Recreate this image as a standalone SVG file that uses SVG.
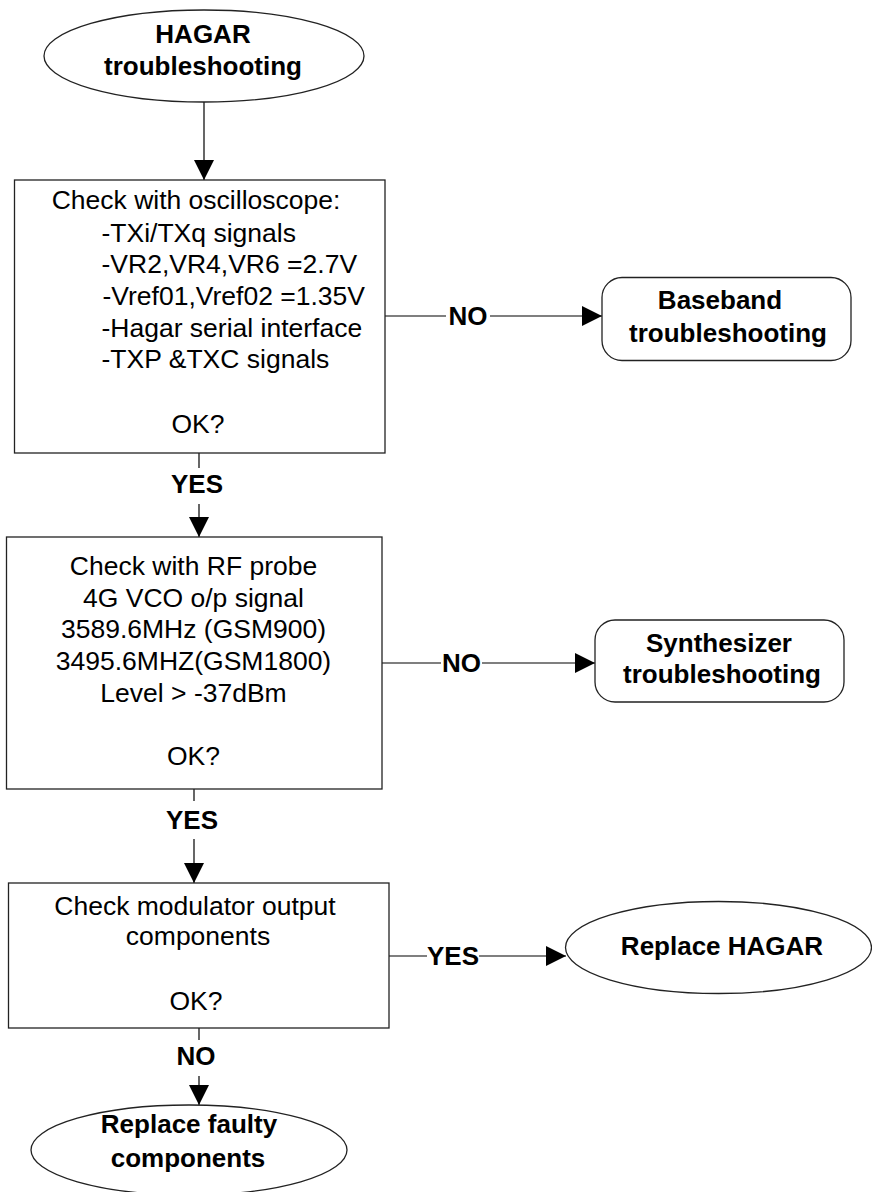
<svg xmlns="http://www.w3.org/2000/svg" width="872" height="1192" viewBox="0 0 872 1192">
<style>
.shape{fill:#fff;stroke:#222;stroke-width:1.3}
.t{font-family:"Liberation Sans",Arial,sans-serif;font-size:26.5px;fill:#000}
.b{font-family:"Liberation Sans",Arial,sans-serif;font-size:26px;font-weight:bold;fill:#000}
.c{text-anchor:middle}
.ln{fill:none;stroke:#000;stroke-width:1.2}
</style>
<defs>
<marker id="arr" viewBox="0 0 20 20" refX="20" refY="10" markerWidth="20" markerHeight="20" markerUnits="userSpaceOnUse" orient="auto"><path d="M0,0 L20,10 L0,20 z" fill="#000"/></marker>
</defs>
<rect width="872" height="1192" fill="#fff"/>
<g id="connectors">
<line class="ln" x1="204" y1="102" x2="204" y2="180" marker-end="url(#arr)"/>
<line class="ln" x1="385" y1="316" x2="446" y2="316"/>
<line class="ln" x1="490" y1="316" x2="602" y2="316" marker-end="url(#arr)"/>
<text class="b c" x="468" y="325">NO</text>
<line class="ln" x1="199" y1="453" x2="199" y2="468"/>
<text class="b c" x="197" y="493">YES</text>
<line class="ln" x1="199" y1="504" x2="199" y2="537" marker-end="url(#arr)"/>
<line class="ln" x1="382" y1="663" x2="441" y2="663"/>
<line class="ln" x1="482" y1="663" x2="595" y2="663" marker-end="url(#arr)"/>
<text class="b c" x="461.5" y="672">NO</text>
<line class="ln" x1="194" y1="789" x2="194" y2="801"/>
<text class="b c" x="192" y="829">YES</text>
<line class="ln" x1="194" y1="839" x2="194" y2="883" marker-end="url(#arr)"/>
<line class="ln" x1="389" y1="956" x2="427" y2="956"/>
<line class="ln" x1="479" y1="956" x2="566" y2="956" marker-end="url(#arr)"/>
<text class="b c" x="453" y="965">YES</text>
<line class="ln" x1="199" y1="1028" x2="199" y2="1040"/>
<text class="b c" x="196" y="1065">NO</text>
<line class="ln" x1="199" y1="1076" x2="199" y2="1105" marker-end="url(#arr)"/>
</g>
<g id="start">
<ellipse class="shape" cx="204" cy="56" rx="160" ry="46"/>
<text class="b c" x="203" y="43">HAGAR</text>
<text class="b c" x="203" y="75">troubleshooting</text>
</g>
<g id="check-osc">
<rect class="shape" x="14.5" y="180" width="370.5" height="273"/>
<text class="t c" x="196" y="209">Check with oscilloscope:</text>
<text class="t" x="101.5" y="241.5">-TXi/TXq signals</text>
<text class="t" x="101.5" y="273">-VR2,VR4,VR6 =2.7V</text>
<text class="t" x="102.5" y="305">-Vref01,Vref02 =1.35V</text>
<text class="t" x="101.5" y="336.5">-Hagar serial interface</text>
<text class="t" x="101.5" y="368">-TXP &amp;TXC signals</text>
<text class="t c" x="198" y="433">OK?</text>
</g>
<g id="baseband">
<rect class="shape" x="602" y="277.5" width="249" height="83" rx="20" ry="20"/>
<text class="b c" x="720" y="309">Baseband</text>
<text class="b c" x="728" y="341.5">troubleshooting</text>
</g>
<g id="check-rf">
<rect class="shape" x="6.5" y="537" width="375.5" height="252"/>
<text class="t c" x="193.5" y="575">Check with RF probe</text>
<text class="t c" x="193.5" y="606.5">4G VCO o/p signal</text>
<text class="t c" x="193.5" y="638">3589.6MHz (GSM900)</text>
<text class="t c" x="193.5" y="670">3495.6MHZ(GSM1800)</text>
<text class="t c" x="193.5" y="701.5">Level &gt; -37dBm</text>
<text class="t c" x="193.5" y="765">OK?</text>
</g>
<g id="synth">
<rect class="shape" x="595" y="620" width="249" height="82" rx="20" ry="20"/>
<text class="b c" x="719" y="651.5">Synthesizer</text>
<text class="b c" x="722" y="683">troubleshooting</text>
</g>
<g id="check-mod">
<rect class="shape" x="8.5" y="883" width="380.5" height="145"/>
<text class="t c" x="195" y="915">Check modulator output</text>
<text class="t c" x="198" y="945">components</text>
<text class="t c" x="196" y="1010">OK?</text>
</g>
<g id="replace-hagar">
<ellipse class="shape" cx="718.5" cy="947.5" rx="153" ry="46"/>
<text class="b c" x="722" y="955">Replace HAGAR</text>
</g>
<g id="replace-faulty">
<ellipse class="shape" cx="189" cy="1150" rx="158" ry="45"/>
<text class="b c" x="189" y="1133">Replace faulty</text>
<text class="b c" x="188" y="1166.5">components</text>
</g>
</svg>
